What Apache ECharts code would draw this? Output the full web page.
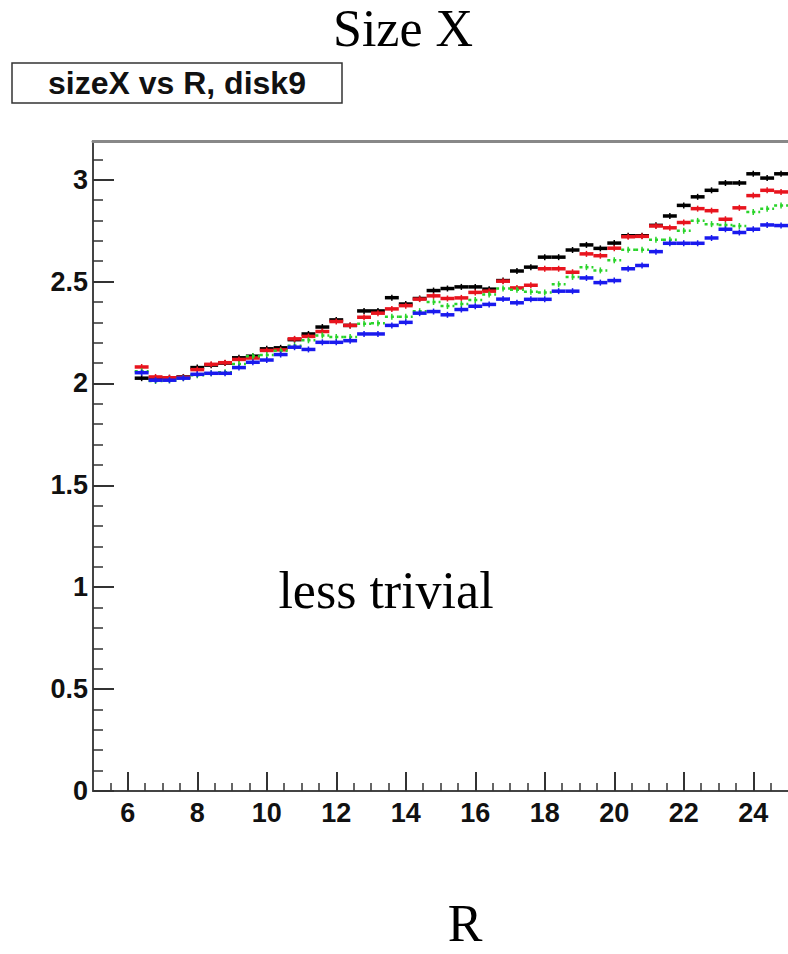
<!DOCTYPE html>
<html><head><meta charset="utf-8">
<script src="https://cdn.jsdelivr.net/npm/echarts@6/dist/echarts.min.js"></script>
<style>html,body{margin:0;padding:0;background:#fff}#chart{width:788px;height:954px}</style>
</head><body><div id="chart"></div>
<script>
// Bin centres of R (bins are 0.4 wide)
const rCenters = [6.4, 6.8, 7.2, 7.6, 8.0, 8.4, 8.8, 9.2, 9.6, 10.0, 10.4, 10.8, 11.2, 11.6, 12.0, 12.4, 12.8, 13.2, 13.6, 14.0, 14.4, 14.8, 15.2, 15.6, 16.0, 16.4, 16.8, 17.2, 17.6, 18.0, 18.4, 18.8, 19.2, 19.6, 20.0, 20.4, 20.8, 21.2, 21.6, 22.0, 22.4, 22.8, 23.2, 23.6, 24.0, 24.4, 24.8];

const sizeBlack = [2.026, 2.025, 2.028, 2.032, 2.078, 2.090, 2.100, 2.126, 2.134, 2.170, 2.175, 2.215, 2.243, 2.277, 2.312, 2.285, 2.356, 2.356, 2.421, 2.390, 2.417, 2.456, 2.466, 2.474, 2.474, 2.463, 2.505, 2.552, 2.571, 2.620, 2.620, 2.655, 2.680, 2.663, 2.689, 2.725, 2.725, 2.776, 2.822, 2.874, 2.916, 2.948, 2.984, 2.984, 3.029, 3.008, 3.029];

const sizeRed = [2.081, 2.032, 2.028, 2.030, 2.068, 2.094, 2.102, 2.118, 2.125, 2.162, 2.165, 2.219, 2.231, 2.255, 2.304, 2.285, 2.325, 2.345, 2.366, 2.382, 2.414, 2.430, 2.417, 2.420, 2.447, 2.453, 2.502, 2.469, 2.482, 2.563, 2.563, 2.546, 2.636, 2.627, 2.664, 2.720, 2.722, 2.773, 2.764, 2.790, 2.858, 2.848, 2.806, 2.862, 2.922, 2.948, 2.940];

const sizeGreen = [2.060, 2.012, 2.015, 2.026, 2.040, 2.050, 2.055, 2.095, 2.134, 2.140, 2.160, 2.185, 2.212, 2.236, 2.228, 2.228, 2.293, 2.296, 2.328, 2.328, 2.355, 2.400, 2.380, 2.390, 2.410, 2.437, 2.466, 2.460, 2.450, 2.447, 2.487, 2.523, 2.571, 2.555, 2.605, 2.656, 2.656, 2.705, 2.705, 2.749, 2.798, 2.782, 2.778, 2.773, 2.841, 2.858, 2.874];

const sizeBlue = [2.053, 2.016, 2.016, 2.026, 2.045, 2.050, 2.050, 2.078, 2.104, 2.115, 2.142, 2.178, 2.167, 2.202, 2.202, 2.210, 2.243, 2.243, 2.285, 2.300, 2.345, 2.353, 2.337, 2.363, 2.379, 2.388, 2.414, 2.396, 2.413, 2.413, 2.453, 2.453, 2.518, 2.495, 2.505, 2.563, 2.579, 2.647, 2.688, 2.688, 2.688, 2.714, 2.757, 2.741, 2.757, 2.778, 2.775];

const xMajorTicks = [6, 8, 10, 12, 14, 16, 18, 20, 22, 24];
const xMinorTicks = [5.5, 6, 6.5, 7, 7.5, 8, 8.5, 9, 9.5, 10, 10.5, 11, 11.5, 12, 12.5, 13, 13.5, 14, 14.5, 15, 15.5, 16, 16.5, 17, 17.5, 18, 18.5, 19, 19.5, 20, 20.5, 21, 21.5, 22, 22.5, 23, 23.5, 24, 24.5];
const yMajorTicks = [0, 0.5, 1, 1.5, 2, 2.5, 3];
const yMinorTicks = [0.1, 0.2, 0.3, 0.4, 0.6, 0.7, 0.8, 0.9, 1.1, 1.2, 1.3, 1.4, 1.6, 1.7, 1.8, 1.9, 2.1, 2.2, 2.3, 2.4, 2.6, 2.7, 2.8, 2.9, 3.1];

const HALF_BIN = 0.2;

function makeSeries(name, values, color, dashed) {
  return {
    type: 'custom', name: name, xAxisIndex: 0, yAxisIndex: 0,
    silent: true, animation: false,
    data: rCenters.map((r, i) => [r, values[i]]),
    renderItem: function (params, api) {
      const r = api.value(0), v = api.value(1);
      const a = api.coord([r - HALF_BIN, v]);
      const b = api.coord([r + HALF_BIN, v]);
      const c = api.coord([r, v]);
      return {
        type: 'group',
        children: [
          { type: 'line', shape: { x1: a[0], y1: a[1], x2: b[0], y2: b[1] },
            style: { stroke: color, lineWidth: dashed ? 2.5 : 3.5, lineDash: dashed ? [3, 3] : null } },
          { type: 'line', shape: { x1: c[0], y1: c[1] - 3, x2: c[0], y2: c[1] + 3 },
            style: { stroke: color, lineWidth: 1.5 } }
        ]
      };
    }
  };
}

const tickFont = { fontFamily: 'Liberation Sans', fontWeight: 'bold', fontSize: 27, color: '#111' };

const chart = echarts.init(document.getElementById('chart'), null, { renderer: 'svg' });
chart.setOption({
  backgroundColor: '#ffffff',
  animation: false,
  title: [
    { text: 'Size X', left: 333, top: 2, padding: 0,
      textStyle: { fontFamily: 'Liberation Serif', fontSize: 52, fontWeight: 'normal', color: '#000', lineHeight: 52 } },
    { text: 'sizeX vs R, disk9', left: 12, top: 63, padding: [4, 36, 4, 36],
      borderColor: '#333', borderWidth: 1.5, backgroundColor: '#fff',
      textStyle: { fontFamily: 'Liberation Sans', fontWeight: 'bold', fontSize: 32, lineHeight: 32, color: '#111' } }
  ],
  graphic: [
    { type: 'text', x: 386, y: 590, silent: true,
      style: { text: 'less trivial', font: '52px "Liberation Serif"', fill: '#000', align: 'center', verticalAlign: 'middle' } }
  ],
  grid: { left: 93, top: 141, width: 699, height: 657, containLabel: false },
  xAxis: [
    { type: 'value', min: 5, max: 25, interval: 0.5, position: 'bottom',
      axisLine: { show: true, lineStyle: { color: '#444', width: 2 } },
      axisTick: { show: true, inside: true, length: 19, customValues: xMajorTicks, lineStyle: { color: '#333', width: 2 } },
      axisLabel: Object.assign({ show: true, customValues: xMajorTicks, margin: 8 }, tickFont),
      splitLine: { show: false },
      name: 'R', nameLocation: 'middle', nameGap: 132,
      nameTextStyle: { fontFamily: 'Liberation Serif', fontSize: 52, color: '#000', verticalAlign: 'middle', padding: [0, 0, 0, 49] } },
    { type: 'value', min: 5, max: 25, interval: 0.5, position: 'bottom',
      axisLine: { show: false },
      axisTick: { show: true, inside: true, length: 8, customValues: xMinorTicks, lineStyle: { color: '#333', width: 1.5 } },
      axisLabel: { show: false }, splitLine: { show: false } },
    { type: 'value', min: 5, max: 25, interval: 0.5, position: 'top',
      axisLine: { show: true, lineStyle: { color: '#888', width: 3 } },
      axisTick: { show: false }, axisLabel: { show: false }, splitLine: { show: false } }
  ],
  yAxis: [
    { type: 'value', min: 0, max: 3.19, interval: 0.5, position: 'left',
      axisLine: { show: true, lineStyle: { color: '#444', width: 2 } },
      axisTick: { show: true, inside: true, length: 21, customValues: yMajorTicks, lineStyle: { color: '#333', width: 2 } },
      axisLabel: Object.assign({ show: true, customValues: yMajorTicks, margin: 5 }, tickFont),
      splitLine: { show: false } },
    { type: 'value', min: 0, max: 3.19, interval: 0.5, position: 'left',
      axisLine: { show: false },
      axisTick: { show: true, inside: true, length: 10, customValues: yMinorTicks, lineStyle: { color: '#333', width: 1.5 } },
      axisLabel: { show: false }, splitLine: { show: false } }
  ],
  series: [
    makeSeries('black', sizeBlack, '#000000', false),
    makeSeries('red', sizeRed, '#e8141e', false),
    makeSeries('green', sizeGreen, '#2ad42a', true),
    makeSeries('blue', sizeBlue, '#1a1aee', false)
  ]
});
</script></body></html>
